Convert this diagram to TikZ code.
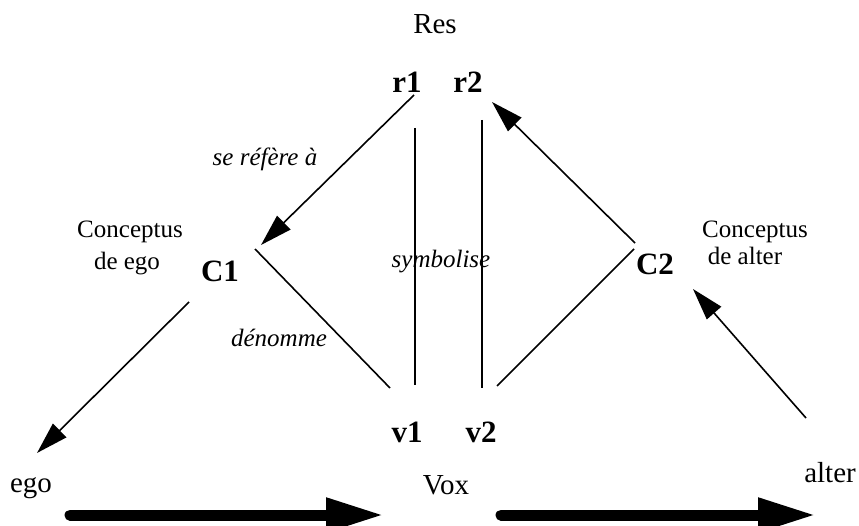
\documentclass[tikz,border=0pt]{standalone}
\usepackage{fontspec}
\setmainfont{Liberation Serif}
\usetikzlibrary{arrows.meta}
\tikzset{
  txt/.style={inner sep=0pt, anchor=base, font=\fontsize{25}{30}\selectfont},
  big/.style={txt, font=\fontsize{29}{34}\selectfont},
  sym/.style={txt, font=\bfseries\fontsize{31}{36}\selectfont},
  rel/.style={txt, font=\itshape\fontsize{25}{30}\selectfont},
  link/.style={line width=1.6pt},
  arr/.style={link, -{Triangle[length=32pt,width=19pt]}},
  flow/.style={line width=11pt, line cap=round, -{Triangle[length=58pt,width=32pt]}}
}
\begin{document}
\begin{tikzpicture}[x=1pt,y=-1pt]
\useasboundingbox (0,0) rectangle (859,526);

	\node[big] (res) at (435,34) {Res};
	\node[sym] (r1) at (407,93) {r1};
	\node[sym] (r2) at (468,93) {r2};
	\node[sym] (C1) at (220,282) {C1};
	\node[sym] (C2) at (655,275) {C2};
	\node[sym] (v1) at (407,442) {v1};
	\node[sym] (v2) at (481,442) {v2};
	\node[big] (vox) at (446,494) {Vox};
	\node[big] (ego) at (31,492) {ego};
	\node[big] (alter) at (830,482) {alter};

	\node[txt] (cego) at (130,238) {Conceptus};
	\node[txt] (cegob) at (127,270) {de ego};
	\node[txt] (calter) at (755,238) {Conceptus};
	\node[txt] (calterb) at (745,265) {de alter};

	\node[rel] (refere) at (265,166) {se réfère à};
	\node[rel] (symb) at (441,268) {symbolise};
	\node[rel] (denom) at (279,347) {dénomme};

	\coordinate (r1o) at (414,95);   \coordinate (C1i) at (261,245);
	\coordinate (C1o) at (255,249);  \coordinate (v1i) at (390,388);
	\coordinate (C1e) at (189,302);  \coordinate (egoi) at (37,453);
	\coordinate (C2o) at (635,243);  \coordinate (r2i) at (492,102);
	\coordinate (C2v) at (634,249);  \coordinate (v2i) at (497,386);
	\coordinate (altero) at (806,418); \coordinate (C2i) at (693,289);
	\coordinate (s1t) at (415,128);  \coordinate (s1b) at (415,385);
	\coordinate (s2t) at (482,120);  \coordinate (s2b) at (482,388);
	\coordinate (fa) at (70,515);    \coordinate (fb) at (384,515);
	\coordinate (fc) at (501,515);   \coordinate (fd) at (816,515);

	\draw[arr] (r1o) -- (C1i);
	\draw[link] (C1o) -- (v1i);
	\draw[arr] (C1e) -- (egoi);
	\draw[arr] (C2o) -- (r2i);
	\draw[link] (C2v) -- (v2i);
	\draw[arr] (altero) -- (C2i);
	\draw[link] (s1t) -- (s1b);
	\draw[link] (s2t) -- (s2b);

	\draw[flow] (fa) -- (fb);
	\draw[flow] (fc) -- (fd);

\end{tikzpicture}
\end{document}
